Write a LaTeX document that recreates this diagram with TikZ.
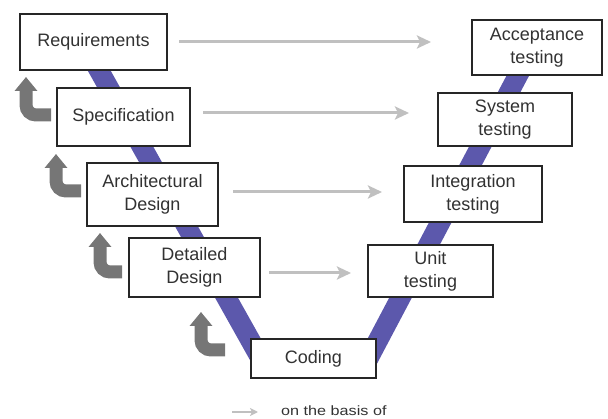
\documentclass[tikz,border=0pt]{standalone}
\usepackage{fontspec}
\setmainfont{Liberation Sans}
\usetikzlibrary{arrows.meta,calc}
\definecolor{vblue}{RGB}{92,88,172}
\definecolor{fbgray}{RGB}{118,118,118}
\definecolor{flowgray}{RGB}{192,192,192}
\definecolor{labelgray}{RGB}{50,50,50}
\begin{document}
\begin{tikzpicture}[x=1pt,y=-1pt,
  phase/.style={draw=black!85,line width=2pt,fill=white,inner sep=0pt,align=center,
    text=labelgray,font=\fontsize{18}{23}\selectfont},
  vband/.style={draw=vblue,line width=20pt},
  flow/.style={draw=flowgray,line width=3pt,-{Stealth[length=14pt,width=13pt,inset=3pt]}},
  feedback/.style={draw=fbgray,line width=13pt,rounded corners=10pt,
    -{Triangle[length=14pt,width=22pt]}},
]
\useasboundingbox (0,0) rectangle (608,419);

% the two arms of the V
\coordinate (vLtop) at (82,40);
\coordinate (vLbot) at (267,370);
\coordinate (vRtop) at (534,45);
\coordinate (vRbot) at (365,365);
\draw[vband] (vLtop) -- (vLbot);
\draw[vband] (vRtop) -- (vRbot);

% development phases (left arm)
\node[phase,minimum width=147pt,minimum height=56pt] (req)   at (93.5,42)   {Requirements};
\node[phase,minimum width=133pt,minimum height=58pt] (spec)  at (123.5,117) {Specification};
\node[phase,minimum width=131pt,minimum height=63pt] (arch)  at (152.5,194.5) {Architectural\\Design};
\node[phase,minimum width=131pt,minimum height=59pt] (det)   at (194.5,267.5) {Detailed\\Design};
\node[phase,minimum width=125pt,minimum height=39pt] (cod)   at (313.5,358.5) {Coding};

% testing phases (right arm)
\node[phase,minimum width=125pt,minimum height=52pt] (unit)  at (430.5,271)  {Unit\\testing};
\node[phase,minimum width=138pt,minimum height=56pt] (integ) at (473,194)    {Integration\\testing};
\node[phase,minimum width=134pt,minimum height=53pt] (sys)   at (505,119.5)  {System\\testing};
\node[phase,minimum width=130pt,minimum height=55pt] (acc)   at (537,47.5)   {Acceptance\\testing};

% "on the basis of" links
\draw[flow,shorten <=11pt,shorten >=40pt] (req.east) -- (req.east -| acc.west);
\draw[flow,shorten <=12pt,shorten >=28pt] ([yshift=4pt]spec.east) -- ([yshift=4pt]spec.east -| sys.west);
\draw[flow,shorten <=14pt,shorten >=21pt] ([yshift=2.5pt]arch.east) -- ([yshift=2.5pt]arch.east -| integ.west);
\draw[flow,shorten <=8pt,shorten >=16pt] ([yshift=-5.5pt]det.east) -- ([yshift=-5.5pt]det.east -| unit.west);

% feedback to the previous phase
\coordinate (fb1) at (26,77);
\coordinate (fb2) at (56,154);
\coordinate (fb3) at (100,233);
\coordinate (fb4) at (201,312);
\draw[feedback] ([xshift=-5pt,yshift=2pt]spec.west) -| (fb1);
\draw[feedback] ([xshift=-5pt,yshift=3.5pt]arch.west) -| (fb2);
\draw[feedback] ([xshift=-6pt,yshift=-4.5pt]det.west) -| (fb3);
\draw[feedback] ([xshift=-25pt,yshift=8.5pt]cod.west) -| (fb4);

% legend
\coordinate (legA) at (232,412);
\coordinate (legB) at (258,412);
\draw[flow,line width=2pt,-{Stealth[length=8pt,width=8pt,inset=2pt]}] (legA) -- (legB);
\node[anchor=west,inner sep=0pt,text=labelgray,font=\fontsize{13.5}{16}\selectfont] (legtxt) at (281,411)
  {\scalebox{1.2}[1]{on the basis of}};
\end{tikzpicture}
\end{document}
